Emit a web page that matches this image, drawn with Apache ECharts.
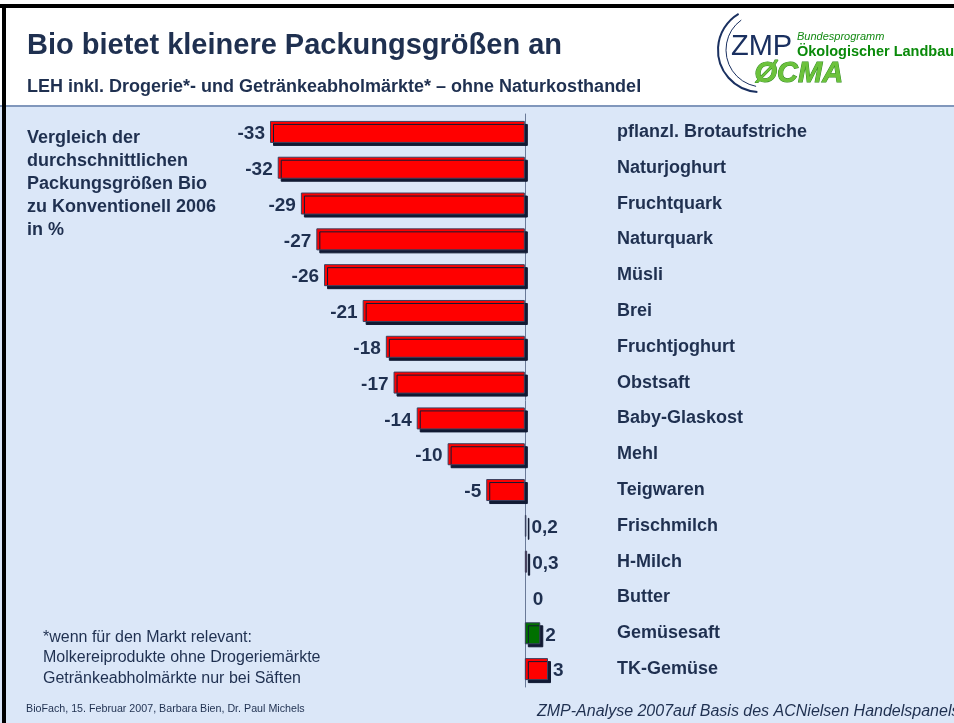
<!DOCTYPE html>
<html>
<head>
<meta charset="utf-8">
<script src="https://cdn.jsdelivr.net/npm/echarts@6/dist/echarts.min.js"></script>
<style>
  html, body { margin: 0; padding: 0; background: #fff; }
  #chart { width: 954px; height: 723px; }
</style>
</head>
<body>
<div id="chart"></div>
<script>
// Daten: Veränderung der Packungsgröße Bio vs. konventionell 2006 in %
var categories = [
  'pflanzl. Brotaufstriche', 'Naturjoghurt', 'Fruchtquark', 'Naturquark', 'Müsli',
  'Brei', 'Fruchtjoghurt', 'Obstsaft', 'Baby-Glaskost', 'Mehl',
  'Teigwaren', 'Frischmilch', 'H-Milch', 'Butter', 'Gemüsesaft', 'TK-Gemüse'
];
var values = [-33, -32, -29, -27, -26, -21, -18, -17, -14, -10, -5, 0.2, 0.3, 0, 2, 3];
var barColors = [
  '#ff0000', '#ff0000', '#ff0000', '#ff0000', '#ff0000',
  '#ff0000', '#ff0000', '#ff0000', '#ff0000', '#ff0000',
  '#ff0000', '#1c2a55', '#8b1a2a', '#ff0000', '#007000', '#ff0000'
];
var noteLines = [
  'Vergleich der',
  'durchschnittlichen',
  'Packungsgrößen Bio',
  'zu Konventionell 2006',
  'in %'
];
var footLines = [
  '*wenn für den Markt relevant:',
  'Molkereiprodukte ohne Drogeriemärkte',
  'Getränkeabholmärkte nur bei Säften'
];

var navy = '#1f3050';
var font = 'Liberation Sans, Arial, sans-serif';

var myChart = echarts.init(document.getElementById('chart'));

var barData = values.map(function (v, i) {
  var item = {
    value: v,
    itemStyle: { color: barColors[i] },
    label: { position: v < 0 ? 'left' : 'right' }
  };
  if (v === 0) {
    // kein sichtbarer Balken bei 0
    item.itemStyle.borderWidth = 0;
    item.itemStyle.shadowColor = 'transparent';
    item.label.distance = 8;
  }
  return item;
});

var option = {
  animation: false,
  backgroundColor: '#ffffff',
  grid: {
    left: 270,
    right: 406,
    top: 114,
    bottom: 36
  },
  xAxis: {
    type: 'value',
    min: -33,
    max: 3,
    show: false
  },
  yAxis: {
    type: 'category',
    data: categories,
    inverse: true,
    axisLine: {
      onZero: true,
      lineStyle: { color: '#6a7a98', width: 1 }
    },
    axisTick: { show: false },
    axisLabel: {
      inside: true,
      margin: 347,
      align: 'left',
      padding: [4, 0, 0, 0],
      color: navy,
      fontFamily: font,
      fontWeight: 'bold',
      fontSize: 18
    }
  },
  series: [
    {
      type: 'bar',
      data: barData,
      barWidth: 22,
      itemStyle: {
        borderColor: '#3a4260',
        borderWidth: 1,
        shadowColor: '#111a33',
        shadowOffsetX: 3,
        shadowOffsetY: 3,
        shadowBlur: 0
      },
      label: {
        show: true,
        distance: 5,
        offset: [0, 2],
        color: navy,
        fontFamily: font,
        fontWeight: 'bold',
        fontSize: 19,
        formatter: function (p) {
          return String(p.value).replace('.', ',');
        }
      }
    }
  ],
  graphic: [
    // Hintergrund unten
    { type: 'rect', z: -10, shape: { x: 0, y: 106, width: 954, height: 617 }, style: { fill: '#dbe7f8' } },
    { type: 'rect', z: -9, shape: { x: 0, y: 105, width: 954, height: 2 }, style: { fill: '#8197bc' } },
    // Rahmen
    { type: 'rect', z: 10, shape: { x: 0, y: 4, width: 954, height: 4 }, style: { fill: '#000' } },
    { type: 'rect', z: 10, shape: { x: 2, y: 4, width: 4, height: 719 }, style: { fill: '#000' } },
    // Titel
    {
      type: 'text', left: 27, top: 31,
      style: { text: 'Bio bietet kleinere Packungsgrößen an', fill: navy, font: 'bold 29px ' + font }
    },
    {
      type: 'text', left: 27, top: 78,
      style: { text: 'LEH inkl. Drogerie*- und Getränkeabholmärkte* – ohne Naturkosthandel', fill: navy, font: 'bold 18px ' + font }
    },
    // Logo
    {
      type: 'arc', shape: { cx: 760, cy: 50, r: 42, startAngle: Math.PI * 0.52, endAngle: Math.PI * 1.33 },
      style: { stroke: '#1a3060', lineWidth: 2, fill: null }
    },
    {
      type: 'arc', shape: { cx: 763, cy: 50, r: 37, startAngle: Math.PI * 0.56, endAngle: Math.PI * 1.3 },
      style: { stroke: '#1a3060', lineWidth: 1, fill: null }
    },
    {
      type: 'text', left: 731, top: 32,
      style: { text: 'ZMP', fill: '#1a3060', font: '29px ' + font }
    },
    {
      type: 'text', left: 797, top: 31,
      style: { text: 'Bundesprogramm', fill: '#138a13', font: 'italic 11px ' + font }
    },
    {
      type: 'text', left: 797, top: 44,
      style: { text: 'Ökologischer Landbau', fill: '#0a8a0a', font: 'bold 14.5px ' + font }
    },
    {
      type: 'text', left: 754, top: 59,
      style: { text: 'ØCMA', fill: '#6cc23c', stroke: '#2f8a20', lineWidth: 1, font: 'italic bold 29px ' + font }
    },
    // Beschriftung links
    {
      type: 'text', left: 27, top: 127,
      style: { text: noteLines.join('\n'), fill: navy, font: 'bold 18px ' + font, lineHeight: 23 }
    },
    {
      type: 'text', left: 43, top: 627,
      style: { text: footLines.join('\n'), fill: navy, font: '16px ' + font, lineHeight: 20.5 }
    },
    {
      type: 'text', left: 26, top: 704,
      style: { text: 'BioFach, 15. Februar 2007, Barbara Bien, Dr. Paul Michels', fill: navy, font: '10.7px ' + font }
    },
    {
      type: 'text', left: 537, top: 704,
      style: { text: 'ZMP-Analyse 2007auf Basis des ACNielsen Handelspanels', fill: navy, font: 'italic 16px ' + font }
    }
  ]
};

myChart.setOption(option);
</script>
</body>
</html>
